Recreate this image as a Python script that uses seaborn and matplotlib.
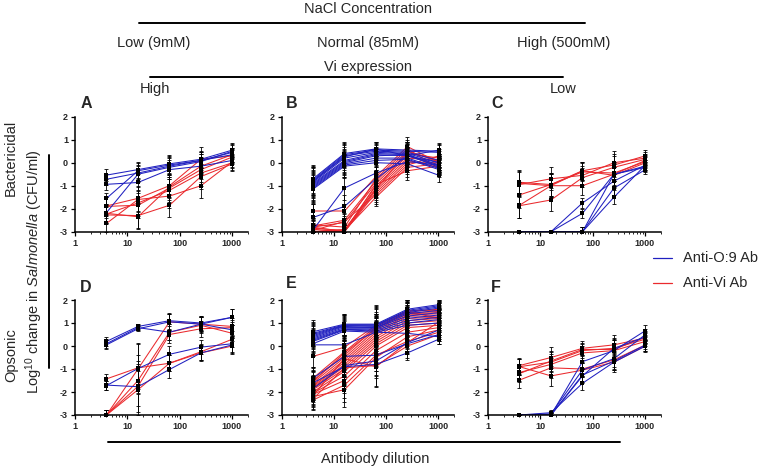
import numpy as np
import pandas as pd
import matplotlib
matplotlib.use("Agg")
import matplotlib.pyplot as plt
import seaborn as sns
from matplotlib.lines import Line2D
from matplotlib.ticker import LogLocator, FixedLocator, NullFormatter, FixedFormatter

sns.set_theme(style="ticks")
plt.rcParams["font.family"] = ["Liberation Sans", "DejaVu Sans"]
plt.rcParams["mathtext.fontset"] = "custom"
plt.rcParams["mathtext.rm"] = "Liberation Sans"
plt.rcParams["mathtext.it"] = "Liberation Sans:italic"

# ---------------- data ----------------
dilutions = [4, 16, 64, 256, 1024]
x_ticks = [1, 10, 100, 1000]
x_tick_labels = ["1", "10", "100", "1000"]
y_ticks = [-3, -2, -1, 0, 1, 2]
antibodies = ["Anti-O:9 Ab", "Anti-Vi Ab"]
panel_letters = ["A", "B", "C", "D", "E", "F"]

A_blue = [[-0.54, -0.30, -0.05, 0.15, 0.55],
          [-0.72, -0.45, -0.15, 0.10, 0.45],
          [-0.94, -0.86, -0.30, -0.15, 0.10],
          [-1.55, -0.35, -0.10, 0.10, 0.35],
          [-2.17, -0.50, -0.20, 0.05, 0.50]]
A_red = [[-1.88, -1.55, -1.00, 0.15, 0.30],
         [-1.90, -1.85, -1.10, -0.30, 0.25],
         [-2.23, -1.75, -1.20, -0.45, 0.00],
         [-2.27, -2.30, -1.85, -0.60, -0.05],
         [-2.64, -1.60, -1.45, -1.00, 0.05],
         [-2.20, -2.35, -1.05, -0.15, 0.35]]
A_err_blue = [0.25, 0.35, 0.40, 0.35, 0.30]
A_err_red = [0.40, 0.55, 0.50, 0.55, 0.30]

B_blue = [[-0.70, 0.40, 0.60, 0.55, 0.50],
          [-0.75, 0.35, 0.55, 0.50, 0.45],
          [-0.80, 0.30, 0.50, 0.45, 0.10],
          [-0.85, 0.20, 0.45, 0.40, 0.00],
          [-0.90, 0.10, 0.40, 0.35, -0.10],
          [-0.95, 0.05, 0.35, 0.30, -0.15],
          [-1.00, 0.00, 0.30, 0.35, -0.20],
          [-1.05, -0.05, 0.20, 0.20, -0.25],
          [-1.10, -0.10, 0.10, 0.15, -0.30],
          [-1.15, -0.15, 0.00, -0.05, -0.55],
          [-0.80, 0.25, 0.60, 0.30, 0.55],
          [-2.93, -1.10, -0.45, 0.05, -0.10],
          [-2.38, -1.90, -0.70, 0.30, 0.00]]
B_red = [[-2.10, -2.10, -0.60, 0.70, 0.00],
         [-2.75, -2.50, -0.80, 0.50, 0.10],
         [-2.80, -2.60, -0.90, 0.40, 0.20],
         [-2.85, -2.95, -1.00, 0.30, -0.10],
         [-2.90, -3.00, -1.10, 0.20, 0.10],
         [-3.00, -3.00, -1.20, 0.10, -0.20],
         [-3.00, -3.00, -1.30, 0.00, 0.00],
         [-2.95, -2.55, -1.40, -0.10, 0.30],
         [-3.00, -2.95, -1.50, -0.20, -0.05],
         [-2.80, -3.00, -0.95, -0.35, -0.15],
         [-3.00, -2.90, -1.15, 0.50, 0.05],
         [-2.70, -2.80, -0.70, 0.60, -0.25]]
B_err_blue = [0.60, 0.50, 0.30, 0.35, 0.30]
B_err_red = [0.30, 0.30, 0.40, 0.40, 0.30]

C_blue = [[-3.00, -3.00, -1.75, -0.80, -0.10],
          [-3.00, -3.00, -2.20, -0.50, -0.15],
          [-3.00, -3.00, -3.00, -0.50, -0.20],
          [-3.00, -3.00, -3.00, -1.10, -0.30],
          [-3.00, -3.00, -3.00, -1.50, -0.10]]
C_red = [[-0.85, -0.95, -0.35, -0.10, 0.30],
         [-0.95, -0.70, -0.55, 0.00, 0.20],
         [-0.90, -1.00, -1.00, -0.50, 0.10],
         [-1.40, -0.95, -0.40, -0.45, 0.05],
         [-1.87, -1.62, -0.65, -0.20, 0.15],
         [-1.85, -1.00, -0.35, -0.55, 0.00]]
C_err_blue = [0.00, 0.00, 0.20, 0.30, 0.20]
C_err_red = [0.55, 0.50, 0.40, 0.50, 0.25]

D_blue = [[0.20, 0.85, 1.10, 1.00, 1.25],
          [0.10, 0.80, 0.60, 0.95, 1.25],
          [0.05, 0.75, 1.05, 0.95, 0.70],
          [-1.72, -0.98, -0.36, -0.05, 0.10],
          [-1.70, -1.77, -1.02, -0.30, 0.05]]
D_red = [[-1.43, -0.95, -0.75, -0.25, 0.30],
         [-3.00, -1.00, 1.05, 0.95, 0.85],
         [-3.00, -1.50, 0.60, 0.90, 0.55],
         [-3.00, -1.75, 0.50, 0.75, 0.80],
         [-3.00, -1.90, -0.75, -0.30, 0.00]]
D_err_blue = [0.20, 0.10, 0.35, 0.30, 0.35]
D_err_red = [0.20, 1.10, 0.35, 0.35, 0.35]

E_blue = [[0.62, 0.95, 0.95, 1.60, 1.80],
          [0.55, 0.92, 0.92, 1.55, 1.75],
          [0.50, 0.90, 0.90, 1.50, 1.70],
          [0.45, 0.88, 0.85, 1.45, 1.65],
          [0.40, 0.85, 0.80, 1.40, 1.55],
          [0.35, 0.80, 0.80, 1.30, 1.45],
          [0.30, 0.75, 0.75, 1.20, 1.35],
          [0.25, 0.72, 0.70, 1.10, 1.25],
          [0.20, 0.70, 0.65, 1.00, 1.15],
          [0.10, 0.65, 0.60, 0.90, 1.00],
          [0.05, 0.05, 0.60, 0.55, 0.40],
          [-1.40, -0.45, -0.40, 0.10, 0.50],
          [-1.60, -0.90, -0.80, -0.30, 0.30],
          [-1.85, -0.85, -0.65, 0.15, 0.70]]
E_red = [[-0.45, -0.05, 0.90, 1.50, 1.60],
         [-1.40, -0.25, 0.85, 1.55, 1.55],
         [-1.50, -0.40, 0.80, 1.45, 1.50],
         [-1.60, -0.50, 0.70, 1.40, 1.45],
         [-1.70, -0.60, 0.60, 1.35, 1.40],
         [-1.75, -0.70, 0.50, 1.30, 1.30],
         [-1.80, -0.80, 0.40, 1.20, 1.25],
         [-1.85, -0.90, 0.30, 1.10, 1.20],
         [-1.90, -1.00, 0.20, 1.00, 1.10],
         [-2.00, -1.10, 0.10, 0.90, 1.00],
         [-2.05, -1.30, 0.00, 0.80, 0.90],
         [-2.10, -1.50, -0.20, 0.60, 0.80],
         [-2.20, -1.90, -0.50, 0.40, 0.70],
         [-2.30, -0.95, -0.85, 0.00, 0.50],
         [-2.35, -1.70, -0.40, 0.20, 0.60],
         [-1.55, -0.30, 0.75, 1.50, 1.20],
         [-2.15, -0.55, -0.90, 0.15, 1.05]]
E_err_blue = [0.50, 0.45, 0.45, 0.30, 0.20]
E_err_red = [0.45, 0.75, 0.90, 0.50, 0.40]

F_blue = [[-3.00, -3.00, -0.68, -0.20, 0.67],
          [-3.00, -2.95, -1.04, -0.55, 0.50],
          [-3.00, -3.00, -1.26, -0.65, 0.05],
          [-3.00, -2.90, -1.62, -0.70, 0.00],
          [-3.00, -3.00, -1.30, -0.10, 0.40]]
F_red = [[-0.85, -0.50, -0.10, 0.05, 0.35],
         [-0.90, -0.70, -0.20, -0.10, 0.30],
         [-1.15, -0.80, -0.30, -0.20, 0.20],
         [-1.48, -0.95, -1.00, -0.60, 0.05],
         [-0.90, -1.30, -1.05, -0.70, 0.00],
         [-1.20, -0.65, -0.15, -0.15, 0.40]]
F_err_blue = [0.00, 0.10, 0.30, 0.35, 0.25]
F_err_red = [0.35, 0.45, 0.30, 0.45, 0.20]

panels = [
    (A_blue, A_red, A_err_blue, A_err_red),
    (B_blue, B_red, B_err_blue, B_err_red),
    (C_blue, C_red, C_err_blue, C_err_red),
    (D_blue, D_red, D_err_blue, D_err_red),
    (E_blue, E_red, E_err_blue, E_err_red),
    (F_blue, F_red, F_err_blue, F_err_red),
]

BLUE = "#2020c0"
RED = "#ea2a2e"
palette = {antibodies[0]: BLUE, antibodies[1]: RED}

# ---------------- figure ----------------
W, H = 761, 470
fig = plt.figure(figsize=(W / 100, H / 100), dpi=100)


def fx(x):
    return x / W


def fy(y):
    return 1 - y / H


def long_df(blue, red, eb, er):
    rows = []
    for ab, series, err in ((antibodies[0], blue, eb), (antibodies[1], red, er)):
        for i, s in enumerate(series):
            for xv, yv, ev in zip(dilutions, s, err):
                rows.append(dict(dil=xv, val=yv, ab=ab, unit=f"{ab}-{i}",
                                 lo=min(ev, yv + 3), hi=min(ev, 2 - yv)))
    return pd.DataFrame(rows)


ax_w = 172.7
lefts = [75, 281.5, 488]
row_tops = [116.7, 300]
ax_h = 115

axes = []
for k, (blue, red, eb, er) in enumerate(panels):
    r, c = divmod(k, 3)
    ax = fig.add_axes([fx(lefts[c]), fy(row_tops[r] + ax_h), ax_w / W, ax_h / H])
    axes.append(ax)
    df = long_df(blue, red, eb, er)
    sns.lineplot(data=df, x="dil", y="val", hue="ab", units="unit", estimator=None,
                 palette=palette, hue_order=[antibodies[1], antibodies[0]],
                 linewidth=0.75, legend=False, ax=ax, sort=False)
    ax.errorbar(df["dil"], df["val"], yerr=[df["lo"], df["hi"]], fmt="none",
                ecolor="black", elinewidth=0.6, capsize=1.5, capthick=0.6, zorder=4)
    sns.scatterplot(data=df, x="dil", y="val", color="black", marker="s", s=8,
                    linewidth=0, ax=ax, zorder=5, clip_on=False, legend=False)
    ax.set_xscale("log")
    ax.set_xlim(1, 2000)
    ax.set_ylim(-3, 2)
    ax.xaxis.set_major_locator(FixedLocator(x_ticks))
    ax.xaxis.set_major_formatter(FixedFormatter(x_tick_labels))
    ax.xaxis.set_minor_locator(LogLocator(base=10, subs=np.arange(2, 10), numticks=20))
    ax.xaxis.set_minor_formatter(NullFormatter())
    ax.set_yticks(y_ticks)
    ax.set_yticklabels([str(v) for v in y_ticks])
    ax.set_xlabel("")
    ax.set_ylabel("")
    sns.despine(ax=ax)
    for sp in ("left", "bottom"):
        ax.spines[sp].set_linewidth(1.1)
        ax.spines[sp].set_color("black")
    ax.tick_params(axis="both", which="major", length=3, width=0.9, color="black",
                   labelsize=6.5, pad=2, direction="out")
    ax.tick_params(axis="x", which="minor", length=1.6, width=0.6, color="black")
    for lab in ax.get_xticklabels() + ax.get_yticklabels():
        lab.set_fontweight("bold")
    ax.patch.set_alpha(0)

# panel letters
letter_pos = [(86, 103), (292, 103), (497, 103), (86, 287), (291, 284), (496, 287)]
for L, (x, y) in zip(panel_letters, letter_pos):
    fig.text(fx(x), fy(y), L, fontsize=11.5, fontweight="bold", ha="center", va="center")

# header
FS = 10.5
fig.text(fx(368), fy(9), "NaCl Concentration", fontsize=FS, ha="center", va="center")
fig.add_artist(Line2D([fx(139), fx(585)], [fy(23.3), fy(23.3)], color="black", lw=1.4))
fig.text(fx(153.5), fy(43), "Low (9mM)", fontsize=FS, ha="center", va="center")
fig.text(fx(368), fy(43), "Normal (85mM)", fontsize=FS, ha="center", va="center")
fig.text(fx(564), fy(43), "High (500mM)", fontsize=FS, ha="center", va="center")
fig.text(fx(368), fy(67), "Vi expression", fontsize=FS, ha="center", va="center")
fig.add_artist(Line2D([fx(150), fx(563)], [fy(77.3), fy(77.3)], color="black", lw=1.4))
fig.text(fx(154.5), fy(89), "High", fontsize=FS, ha="center", va="center")
fig.text(fx(563), fy(89), "Low", fontsize=FS, ha="center", va="center")

# left labels
fig.text(fx(11), fy(158), "Bactericidal", fontsize=FS, rotation=90, ha="center", va="center")
fig.text(fx(11), fy(355), "Opsonic", fontsize=FS, rotation=90, ha="center", va="center")
fig.text(fx(34), fy(272), r"Log$^{10}$ change in $\mathit{Salmonella}$ (CFU/ml)",
         fontsize=FS, rotation=90, ha="center", va="center")
fig.add_artist(Line2D([fx(49), fx(49)], [fy(155), fy(368)], color="black", lw=1.4))

# bottom
fig.add_artist(Line2D([fx(108), fx(620)], [fy(441.7), fy(441.7)], color="black", lw=1.4))
fig.text(fx(375), fy(459), "Antibody dilution", fontsize=FS, ha="center", va="center")

# legend
for (lab, col, y) in ((antibodies[0], BLUE, 258.3), (antibodies[1], RED, 283)):
    fig.add_artist(Line2D([fx(653), fx(672)], [fy(y), fy(y)], color=col, lw=0.9))
    fig.text(fx(683), fy(y), lab, fontsize=FS, ha="left", va="center")

fig.savefig("out.png", dpi=100)
